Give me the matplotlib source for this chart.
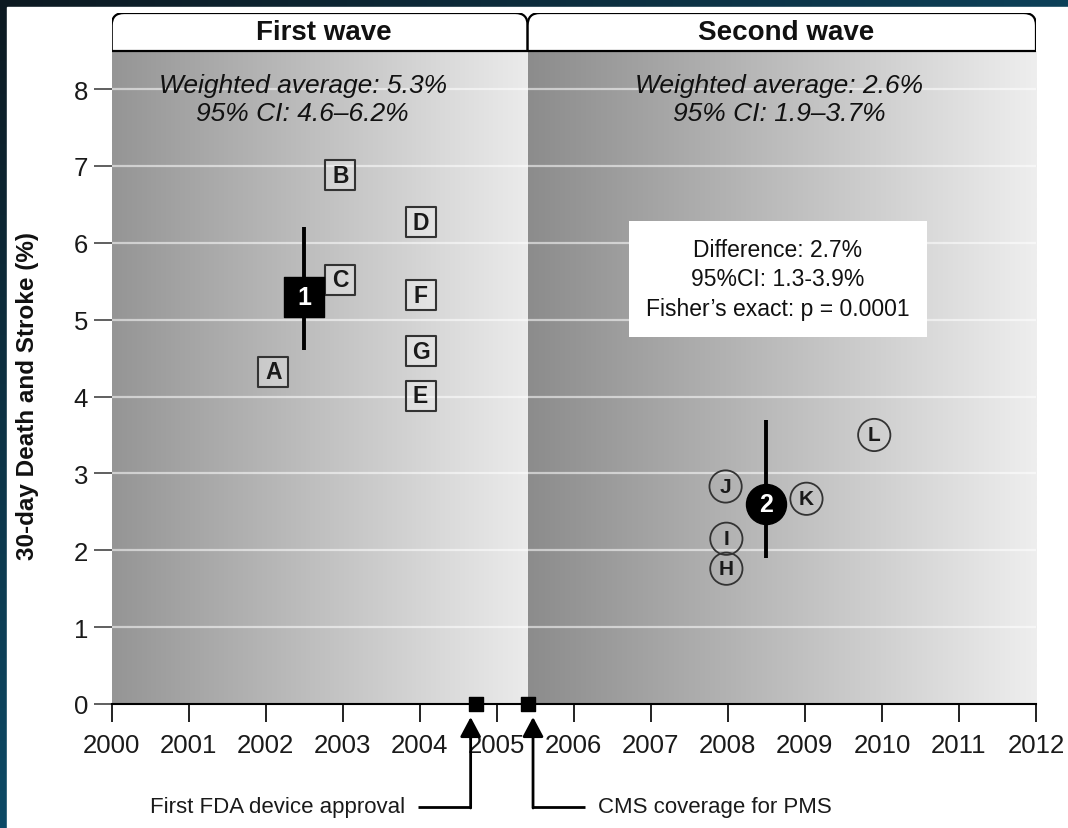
import matplotlib.pyplot as plt
import numpy as np
from matplotlib.patches import FancyBboxPatch, Rectangle
from matplotlib.colors import LinearSegmentedColormap

# individual studies, first wave (squares)
first_labels = ['A', 'B', 'C', 'D', 'E', 'F', 'G']
first_years = [2002.10, 2002.97, 2002.97, 2004.01, 2004.01, 2004.01, 2004.01]
first_rates = [4.32, 6.88, 5.52, 6.27, 4.01, 5.32, 4.59]

# individual studies, second wave (circles)
second_labels = ['H', 'I', 'J', 'K', 'L']
second_years = [2007.98, 2007.98, 2007.97, 2009.02, 2009.90]
second_rates = [1.76, 2.15, 2.83, 2.67, 3.50]

# pooled estimates per wave
pooled_labels = ['1', '2']
pooled_years = [2002.5, 2008.5]
pooled_avg = [5.3, 2.6]
pooled_lo = [4.6, 1.9]
pooled_hi = [6.2, 3.7]

wave_names = ['First wave', 'Second wave']
wave_bounds = [2000, 2005.4, 2012]
wave_text_x = [2002.48, 2008.67]

event_labels = ['First FDA device approval', 'CMS coverage for PMS']
event_years = [2004.73, 2005.40]

diff_lines = ['Difference: 2.7%', '95%CI: 1.3-3.9%', 'Fisher\u2019s exact: p = 0.0001']

SANS = ['Liberation Sans', 'DejaVu Sans']
plt.rcParams['font.family'] = SANS

W, H = 1068, 829
fig = plt.figure(figsize=(W / 100, H / 100), dpi=100)

# dark frame along the left and top edges
bg = fig.add_axes([0, 0, 1, 1], zorder=-10)
yy, xx = np.mgrid[0:1:200j, 0:1:200j]
t = np.clip(np.maximum(xx * 0.8, yy), 0, 1)[..., None]
dark = np.array([0.05, 0.10, 0.13])
teal = np.array([0.05, 0.29, 0.40])
bg.imshow(dark + (teal - dark) * t, extent=[0, 1, 0, 1], origin='upper', aspect='auto')
bg.add_patch(Rectangle((7 / W, 0), 1, 1 - 8 / H, color='white'))
bg.set_xlim(0, 1)
bg.set_ylim(0, 1)
bg.axis('off')

ax_l, ax_r, ax_b, ax_t = 111.7, 1036, 705, 14
ax = fig.add_axes([ax_l / W, (H - ax_b) / H, (ax_r - ax_l) / W, (ax_b - ax_t) / H])
ax.set_facecolor('none')
ytop = 8.99
panel_top = 8.49

# shaded wave panels with rounded header tabs
grad = np.linspace(0, 1, 256)[None, :]
cmaps = [LinearSegmentedColormap.from_list('w1', ['#959595', '#ebebeb']),
         LinearSegmentedColormap.from_list('w2', ['#8c8c8c', '#eeeeee'])]
for i in range(2):
    x0, x1 = wave_bounds[i], wave_bounds[i + 1]
    ax.imshow(grad, extent=[x0, x1, 0, panel_top], aspect='auto', cmap=cmaps[i],
              vmin=0, vmax=1, zorder=0.6, interpolation='bilinear')
    hdr = FancyBboxPatch((x0, 8.1), x1 - x0, ytop - 8.1,
                         boxstyle='round,pad=0,rounding_size=0.16',
                         fc='white', ec='black', lw=1.6, zorder=0.5)
    hdr.set_clip_path(Rectangle((1999, panel_top), 14, 2, transform=ax.transData))
    ax.add_patch(hdr)
    ax.text((x0 + x1) / 2 + 0.05, (panel_top + ytop) / 2, wave_names[i], ha='center', va='center',
            fontsize=20, fontweight='bold', color='#111111', zorder=3)
    ax.text(wave_text_x[i], 7.87,
            f'Weighted average: {pooled_avg[i]}%\n95% CI: {pooled_lo[i]}\u2013{pooled_hi[i]}%',
            ha='center', va='center', fontsize=19, style='italic', color='#111111',
            linespacing=1.2, zorder=3)
ax.hlines(panel_top, wave_bounds[0], wave_bounds[-1], color='black', lw=1.6, zorder=2, clip_on=False)

# light gridlines
ax.hlines(np.arange(1, 9), 2000, 2012, color='white', alpha=0.55, lw=1.6, zorder=1)

# first wave studies
ax.scatter(first_years, first_rates, marker='s', s=470, fc=(1, 1, 1, 0.3),
           ec='#333333', lw=1.5, zorder=4)
for lab, x, y in zip(first_labels, first_years, first_rates):
    ax.text(x, y, lab, ha='center', va='center', fontsize=16.5, fontweight='bold',
            color='#1a1a1a', zorder=5)

# second wave studies
ax.scatter(second_years, second_rates, marker='o', s=540, fc='none',
           ec='#333333', lw=1.3, zorder=4)
for lab, x, y in zip(second_labels, second_years, second_rates):
    ax.text(x, y, lab, ha='center', va='center', fontsize=15, fontweight='bold',
            color='#1a1a1a', zorder=5)

# pooled estimates with confidence intervals
ax.vlines(pooled_years, pooled_lo, pooled_hi, color='black', lw=2.8, zorder=5)
ax.scatter(pooled_years[:1], pooled_avg[:1], marker='s', s=830, c='black', zorder=6)
ax.scatter(pooled_years[1:], pooled_avg[1:], marker='o', s=830, c='black', zorder=6)
for lab, x, y in zip(pooled_labels, pooled_years, pooled_avg):
    ax.text(x, y, lab, ha='center', va='center', fontsize=18, fontweight='bold',
            color='white', zorder=7)

# comparison box
ax.text(2008.65, 5.53, '\n'.join(diff_lines), ha='center', va='center', fontsize=16.5,
        color='#111111', linespacing=1.35, zorder=6,
        bbox=dict(boxstyle='square,pad=0.75', fc='white', ec='none'))

# regulatory events on the time axis, arrows pass just outside the 2005 label
ax.scatter(event_years, [0, 0], marker='s', s=100, c='black', zorder=8, clip_on=False)
arrow_y0, arrow_y1 = -1.34, -0.17
for i, (lab, x) in enumerate(zip(event_labels, event_years)):
    side = -1 if i == 0 else 1
    ax_x = x + side * 0.07
    ax.annotate('', xy=(ax_x, arrow_y1), xytext=(ax_x, arrow_y0 - 0.013),
                arrowprops=dict(arrowstyle='-|>,head_length=0.6,head_width=0.32',
                                mutation_scale=20, color='black', lw=2,
                                shrinkA=0, shrinkB=0),
                annotation_clip=False)
    ax.plot([ax_x, ax_x + side * 0.68], [arrow_y0, arrow_y0], color='black', lw=2,
            clip_on=False, solid_capstyle='butt')
    ax.text(ax_x + side * 0.85, arrow_y0, lab, ha='right' if side < 0 else 'left',
            va='center', fontsize=16, color='#1a1a1a')

ax.set_xlim(2000, 2012)
ax.set_ylim(0, ytop)
ax.set_xticks(np.arange(2000, 2013))
ax.set_yticks(np.arange(0, 9))
for sp in ['top', 'right', 'left']:
    ax.spines[sp].set_visible(False)
ax.spines['bottom'].set_linewidth(1.5)
ax.spines['bottom'].set_zorder(7)
ax.tick_params(axis='x', direction='out', length=13, width=1.4, color='#222222', pad=8)
ax.tick_params(axis='y', direction='out', length=13, width=1.2, color='#444444', pad=4)
for lbl in ax.get_xticklabels() + ax.get_yticklabels():
    lbl.set_fontsize(18.5)
    lbl.set_color('#1a1a1a')

fig.text(28 / W, 1 - 396 / H, '30-day Death and Stroke (%)', rotation=90,
         ha='center', va='center', fontsize=17.5, fontweight='bold', color='#111111')

fig.savefig('out.png', dpi=100)
